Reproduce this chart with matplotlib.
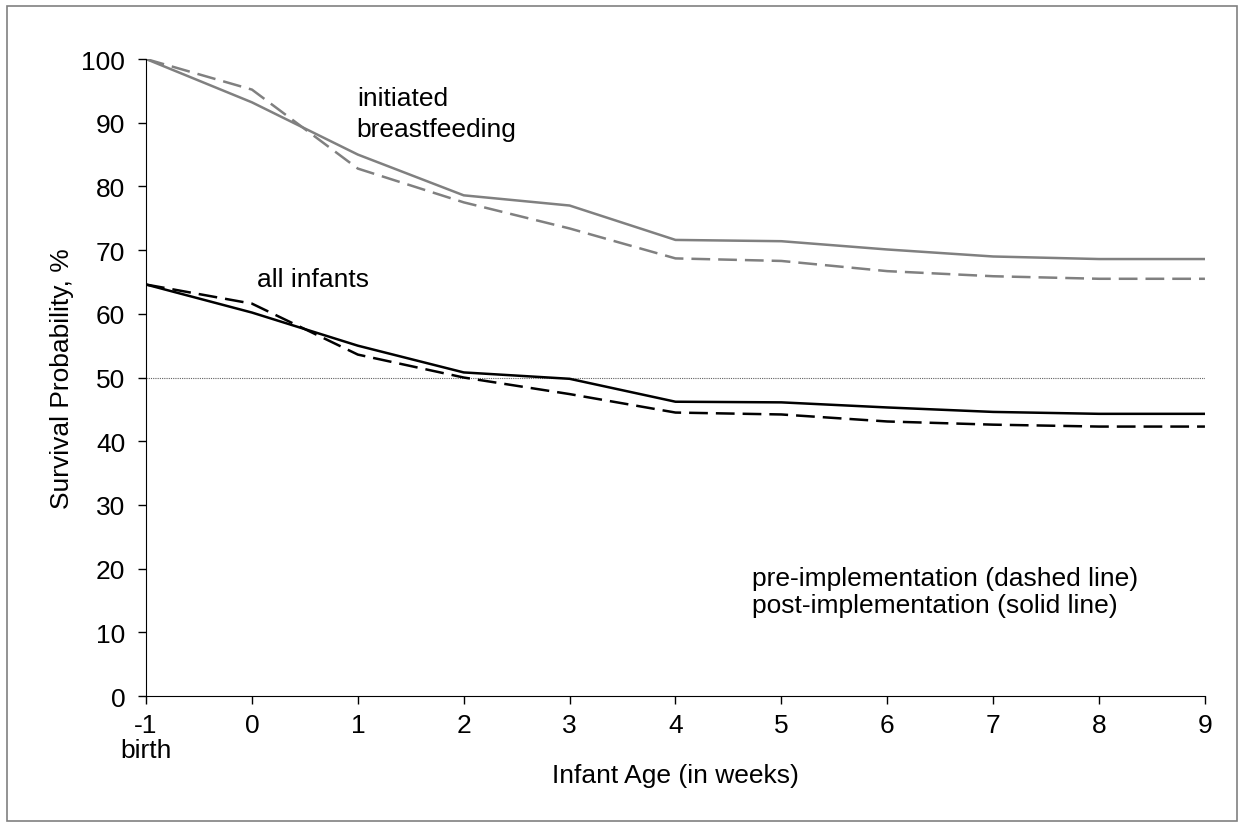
import matplotlib
matplotlib.use("Agg")
import matplotlib.pyplot as plt
from matplotlib.patches import Rectangle

plt.rcParams['font.family'] = ['Liberation Sans', 'DejaVu Sans']

weeks = [-1, 0, 1, 2, 3, 4, 5, 6, 7, 8, 9]
bf_post = [100, 93.2, 85.0, 78.6, 77.0, 71.6, 71.4, 70.1, 69.0, 68.6, 68.6]
bf_pre = [100, 95.2, 82.8, 77.5, 73.4, 68.7, 68.3, 66.7, 65.9, 65.5, 65.5]
all_post = [64.6, 60.2, 55.0, 50.8, 49.8, 46.2, 46.1, 45.3, 44.6, 44.3, 44.3]
all_pre = [64.6, 61.6, 53.6, 50.0, 47.4, 44.5, 44.2, 43.1, 42.6, 42.3, 42.3]
xtick_labels = ['-1\nbirth', '0', '1', '2', '3', '4', '5', '6', '7', '8', '9']

fig = plt.figure(figsize=(12.44, 8.29), dpi=100)
ax = fig.add_axes([0.1174, 0.1592, 0.8512, 0.7684])

# frame round the whole picture
fig.patches.append(Rectangle((0.006, 0.008), 0.988, 0.984, transform=fig.transFigure,
                             fill=False, edgecolor='#808080', linewidth=1.2))

gray = '#808080'
dash = (0, (7.5, 3.2))
ax.axhline(50, color='#606060', linewidth=0.8, linestyle=(0, (1, 1)))
ax.plot(weeks, bf_post, color=gray, linewidth=1.8)
ax.plot(weeks, bf_pre, color=gray, linewidth=1.8, linestyle=dash)
ax.plot(weeks, all_post, color='black', linewidth=1.8)
ax.plot(weeks, all_pre, color='black', linewidth=1.8, linestyle=dash)

ax.set_xlim(-1, 9)
ax.set_ylim(0, 100)
ax.set_xticks(weeks)
ax.set_xticklabels(xtick_labels)
ax.set_yticks(range(0, 101, 10))
ax.tick_params(direction='out', length=6, width=1, labelsize=19, colors='black')
ax.tick_params(axis='y', pad=9)
ax.tick_params(axis='x', pad=6)
for lab in ax.get_xticklabels():
    lab.set_linespacing(1.05)
ax.spines['top'].set_visible(False)
ax.spines['right'].set_visible(False)
ax.spines['left'].set_clip_on(False)
ax.set_xlabel('Infant Age (in weeks)', fontsize=19, labelpad=1)
ax.set_ylabel('Survival Probability, %', fontsize=19, labelpad=5)

# y of a multi-line text is the baseline of its last line
ax.text(0.99, 87.9, 'initiated\nbreastfeeding', fontsize=19, va='baseline', linespacing=1.35)
ax.text(0.05, 64.4, 'all infants', fontsize=19, va='baseline')
ax.text(4.72, 13.2, 'pre-implementation (dashed line)\npost-implementation (solid line)',
        fontsize=19, va='baseline', linespacing=1.15)

fig.savefig('out.png', dpi=100)
